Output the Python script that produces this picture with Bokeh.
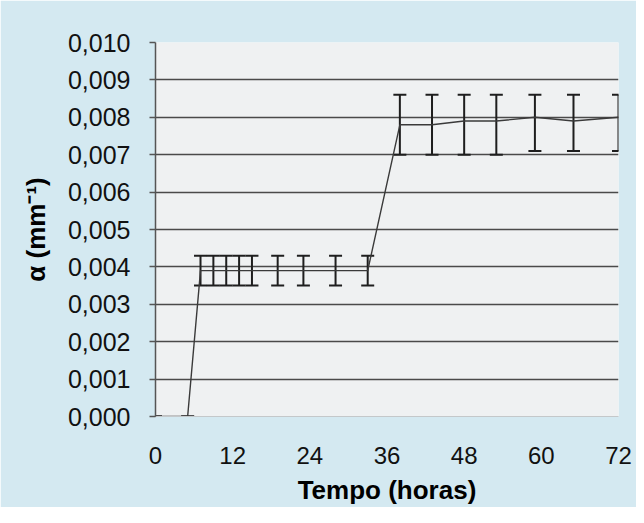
from bokeh.plotting import figure
from bokeh.models import ColumnDataSource, Whisker, TeeHead, FixedTicker, Range1d
from bokeh.embed import file_html
from bokeh.resources import INLINE

# ---- data ----
hours = [0, 5, 7, 9, 11, 13, 15, 19, 23, 28, 33, 38, 43, 48, 53, 59, 65, 72]
alpha = [0.0, 0.0, 0.0039, 0.0039, 0.0039, 0.0039, 0.0039, 0.0039, 0.0039, 0.0039, 0.0039,
         0.0078, 0.0078, 0.0079, 0.0079, 0.0080, 0.0079, 0.0080]
alpha_upper = [0.0, 0.0, 0.0043, 0.0043, 0.0043, 0.0043, 0.0043, 0.0043, 0.0043, 0.0043, 0.0043,
               0.0086, 0.0086, 0.0086, 0.0086, 0.0086, 0.0086, 0.0086]
alpha_lower = [0.0, 0.0, 0.0035, 0.0035, 0.0035, 0.0035, 0.0035, 0.0035, 0.0035, 0.0035, 0.0035,
               0.0070, 0.0070, 0.0070, 0.0070, 0.0071, 0.0071, 0.0071]

x_ticks = [0, 12, 24, 36, 48, 60, 72]
y_ticks = [0.000, 0.001, 0.002, 0.003, 0.004, 0.005, 0.006, 0.007, 0.008, 0.009, 0.010]
y_tick_labels = ["0,000", "0,001", "0,002", "0,003", "0,004", "0,005",
                 "0,006", "0,007", "0,008", "0,009", "0,010"]
x_title = "Tempo (horas)"
y_title = "α (mm⁻¹)"

FONT = "Liberation Sans"

p = figure(width=636, height=507, output_backend="svg", toolbar_location=None,
           x_range=Range1d(0, 72), y_range=Range1d(0, 0.010),
           min_border_left=155, min_border_right=18, min_border_top=42, min_border_bottom=90)

p.background_fill_color = "#eff1f2"
p.border_fill_color = "#d4e9f1"
p.outline_line_color = None

# grid
p.xgrid.visible = False
p.ygrid.ticker = FixedTicker(ticks=y_ticks[1:-1])
p.ygrid.grid_line_color = "#4a4a4a"
p.ygrid.grid_line_width = 1.4

# x axis
p.xaxis.ticker = FixedTicker(ticks=x_ticks)
p.xaxis.axis_line_color = "#c4c8ca"
p.xaxis.axis_line_width = 1.2
p.xaxis.major_tick_line_color = None
p.xaxis.minor_tick_line_color = None
p.xaxis.major_label_text_font = FONT
p.xaxis.major_label_text_font_size = "24px"
p.xaxis.major_label_text_color = "#111111"
p.xaxis.major_label_standoff = 24
p.xaxis.axis_label = x_title
p.xaxis.axis_label_text_font = FONT
p.xaxis.axis_label_text_font_size = "26px"
p.xaxis.axis_label_text_font_style = "bold"
p.xaxis.axis_label_text_color = "#000000"
p.xaxis.axis_label_standoff = 8

# y axis
p.yaxis.ticker = FixedTicker(ticks=y_ticks)
p.yaxis.major_label_overrides = {t: l for t, l in zip(y_ticks, y_tick_labels)}
p.yaxis.axis_line_color = "#555555"
p.yaxis.axis_line_width = 1.5
p.yaxis.major_tick_line_color = "#555555"
p.yaxis.major_tick_line_width = 1.5
p.yaxis.major_tick_out = 6
p.yaxis.major_tick_in = 0
p.yaxis.minor_tick_line_color = None
p.yaxis.major_label_text_font = FONT
p.yaxis.major_label_text_font_size = "25px"
p.yaxis.major_label_text_color = "#111111"
p.yaxis.major_label_standoff = 19
p.yaxis.axis_label = y_title
p.yaxis.axis_label_text_font = FONT
p.yaxis.axis_label_text_font_size = "26px"
p.yaxis.axis_label_text_font_style = "bold"
p.yaxis.axis_label_text_color = "#000000"
p.yaxis.axis_label_standoff = 14

src = ColumnDataSource(dict(x=hours, y=alpha, upper=alpha_upper, lower=alpha_lower))

p.line("x", "y", source=src, line_color="#3a3a3a", line_width=1.4)

whisker = Whisker(source=src, base="x", upper="upper", lower="lower",
                  line_color="#1e1e1e", line_width=2,
                  upper_head=TeeHead(size=13, line_color="#1e1e1e", line_width=2),
                  lower_head=TeeHead(size=13, line_color="#1e1e1e", line_width=2))
p.add_layout(whisker)

open("out.html", "w").write(file_html(p, INLINE))
